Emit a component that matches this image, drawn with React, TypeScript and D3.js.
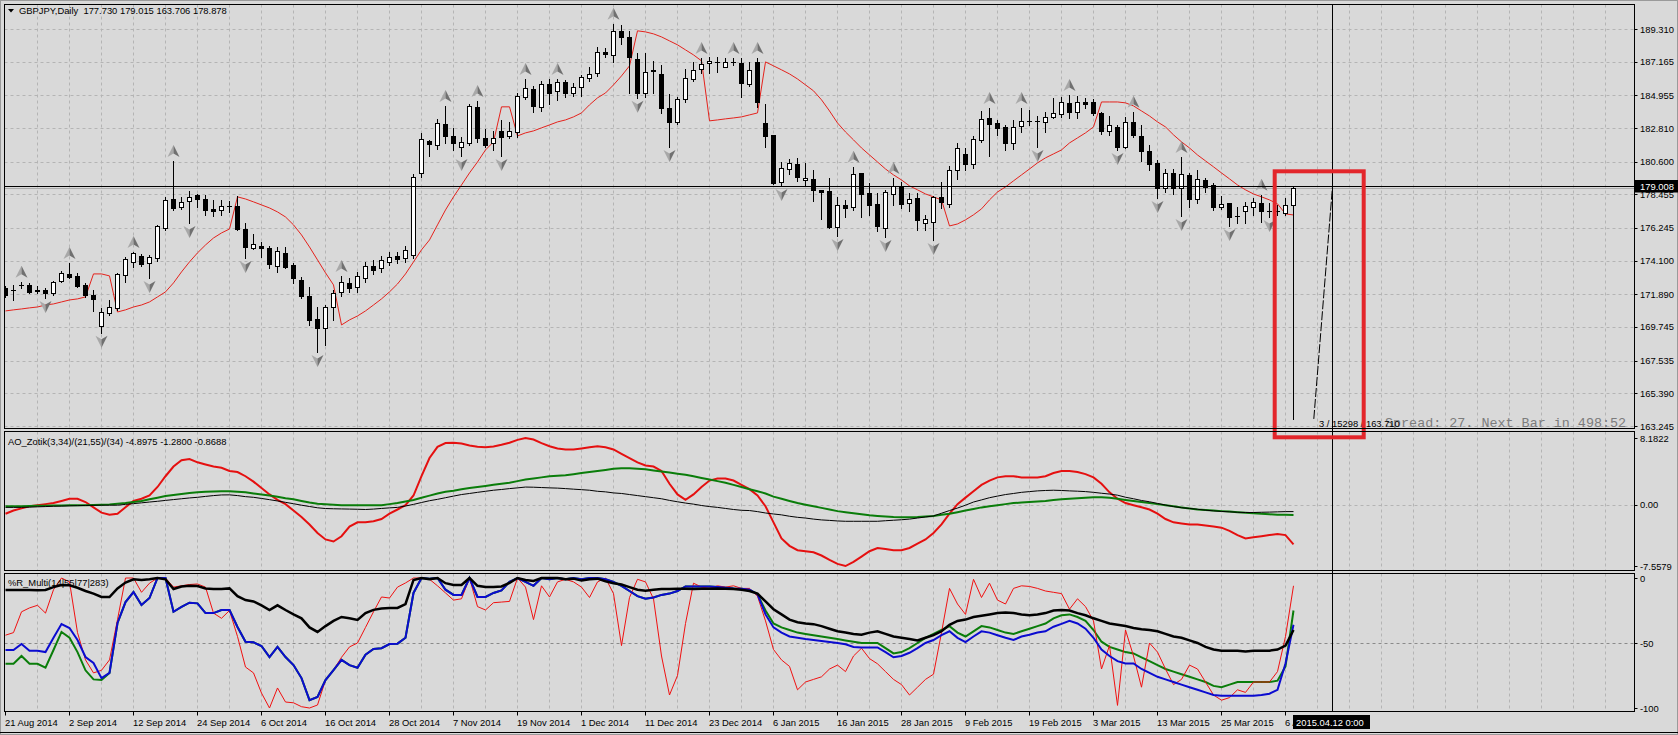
import React from 'react'
import * as d3 from 'd3'

const W = 1678
const H = 735
const FONT = "'Liberation Sans', Arial, sans-serif"

const symbolTitle = 'GBPJPY,Daily  177.730 179.015 163.706 178.878'
const aoTitle = 'AO_Zotik(3,34)/(21,55)/(34) -4.8975 -1.2800 -0.8688'
const wprTitle = '%R_Multi(14|55|77|283)'

// one label every 8 bars
const timeLabels = ['21 Aug 2014', '2 Sep 2014', '12 Sep 2014', '24 Sep 2014', '6 Oct 2014', '16 Oct 2014',
  '28 Oct 2014', '7 Nov 2014', '19 Nov 2014', '1 Dec 2014', '11 Dec 2014', '23 Dec 2014', '6 Jan 2015',
  '16 Jan 2015', '28 Jan 2015', '9 Feb 2015', '19 Feb 2015', '3 Mar 2015', '13 Mar 2015', '25 Mar 2015', '6 Apr 2015']
const priceTicks = [189.310, 187.165, 184.955, 182.810, 180.600, 178.455, 176.245, 174.100, 171.890, 169.745, 167.535, 165.390, 163.245]
const aoTicks = [8.1822, 0, -7.5579]
const aoTickText = ['8.1822', '0.00', '-7.5579']
const wprTicks = [0, -50, -100]

const opens = [172.31,172.20,172.49,172.51,172.18,172.18,171.98,172.77,173.23,173.10,
  172.51,171.85,169.81,170.67,171.00,173.16,174.02,174.41,173.95,174.28,
  176.25,178.15,177.63,178.02,178.42,178.15,177.49,177.43,177.67,177.69,
  176.18,174.94,175.07,174.94,173.76,174.61,173.82,172.84,171.79,170.27,
  169.68,171.07,172.05,172.64,172.38,172.97,173.76,173.62,174.02,174.41,
  174.28,174.48,179.86,181.96,181.70,183.08,182.29,181.57,181.83,184.20,
  182.16,181.83,182.62,182.29,182.55,184.85,185.38,184.20,185.71,185.25,
  185.84,185.12,185.51,186.10,186.43,187.81,187.61,189.19,188.79,187.35,
  185.11,186.56,186.36,184.13,183.21,184.72,186.03,186.69,187.08,187.15,
  186.82,187.17,187.08,185.71,187.15,183.14,182.36,179.27,180.12,180.45,
  179.40,179.47,178.75,178.68,176.32,177.76,177.63,179.86,178.55,177.82,
  176.25,178.48,178.94,177.89,178.22,176.58,176.64,178.29,177.82,180.06,
  181.11,180.45,182.03,183.47,183.14,182.88,181.83,182.95,183.29,183.27,
  183.21,183.54,183.73,184.46,183.87,184.52,184.52,183.80,182.62,182.88,
  181.57,183.21,182.29,181.31,180.52,178.88,179.86,178.88,179.73,178.15,
  179.40,179.07,177.63,177.89,177.04,177.36,177.63,177.89,177.38,177.36,
  177.23,177.73]
const highs = [172.44,172.51,172.71,172.64,172.44,172.31,172.77,173.43,173.95,173.30,
  172.64,172.18,171.00,171.52,173.30,174.35,174.67,174.54,174.48,176.45,
  178.29,180.65,178.29,178.68,178.48,178.42,178.09,178.09,178.02,178.35,
  176.58,175.86,175.33,175.07,175.00,175.00,173.95,173.03,172.38,171.07,
  171.20,172.18,173.10,172.97,173.36,174.02,174.15,174.41,174.67,174.67,
  175.07,179.80,182.49,182.03,183.41,184.26,182.82,182.22,184.39,184.59,
  182.75,182.62,183.34,183.21,185.11,186.03,185.57,185.90,186.03,186.03,
  185.97,185.77,186.30,186.82,188.14,188.07,189.65,189.58,189.19,187.74,
  187.74,187.22,186.95,185.05,184.85,186.69,187.15,187.41,187.48,187.48,
  187.41,187.41,187.41,187.15,187.41,184.39,182.36,180.58,180.78,180.85,
  180.52,180.06,178.75,179.53,178.29,178.09,180.26,179.86,179.21,178.55,
  178.75,179.53,179.27,178.55,178.55,177.10,178.35,179.27,180.32,181.83,
  181.50,182.29,183.93,184.13,183.34,183.01,183.34,184.13,184.00,183.60,
  183.87,184.79,184.85,184.98,184.92,184.79,184.72,183.87,183.60,183.01,
  183.54,183.87,183.01,181.70,180.72,180.12,180.12,180.91,179.86,180.06,
  179.53,179.20,178.35,177.89,177.63,177.96,178.22,178.42,177.89,177.76,
  178.22,179.015]
const lows = [171.72,171.52,172.31,171.98,171.98,171.65,171.85,172.71,172.97,172.38,
  171.72,170.80,169.36,170.54,170.87,172.71,173.69,173.76,172.97,174.09,
  176.12,177.43,177.49,176.58,177.63,177.10,177.04,177.10,177.30,176.12,
  174.28,174.87,174.35,173.62,173.36,173.62,172.64,171.65,169.88,168.11,
  168.57,170.21,171.79,172.05,172.05,172.71,173.23,173.36,173.82,173.95,
  174.02,174.28,179.60,180.98,181.44,181.83,181.37,180.98,181.70,181.90,
  181.57,181.37,180.98,182.16,182.22,184.72,183.87,183.93,184.39,184.66,
  184.85,184.92,184.92,185.90,186.23,187.48,187.15,188.33,185.11,184.79,
  184.85,185.11,183.80,181.57,183.08,184.52,185.90,186.43,186.43,186.49,
  186.82,186.95,184.85,185.57,184.20,181.57,179.14,179.01,179.80,179.34,
  179.01,178.02,176.84,176.25,175.72,176.97,177.43,176.97,177.10,176.05,
  175.66,177.76,177.56,177.36,176.12,176.12,175.46,177.56,177.63,179.47,
  180.06,180.19,181.90,180.98,182.36,181.37,181.44,182.55,183.01,181.57,
  182.55,183.47,183.54,183.47,183.47,184.13,183.67,182.42,182.36,181.37,
  181.50,182.22,180.65,180.06,178.22,178.61,178.48,177.04,177.63,177.89,
  178.61,177.43,177.49,176.38,176.58,176.58,177.10,176.64,176.97,177.10,
  177.10,163.706]
const closes = [171.85,172.16,172.53,172.05,172.10,171.98,172.71,173.30,173.03,172.44,
  171.85,171.59,170.73,171.07,173.23,174.22,174.61,173.89,174.35,176.38,
  178.09,177.56,177.96,178.29,178.15,177.43,177.36,177.69,177.71,176.18,
  175.00,175.20,174.94,173.89,174.74,173.69,172.97,171.79,170.21,169.68,
  171.07,171.98,172.71,172.31,173.10,173.76,173.49,174.15,174.35,174.22,
  174.81,179.60,182.09,181.77,183.14,182.29,181.83,181.90,184.26,182.16,
  181.70,182.16,182.22,182.62,184.92,185.44,184.26,185.71,185.12,185.84,
  185.12,185.51,186.16,186.36,187.81,187.68,189.19,188.79,187.48,185.11,
  186.49,186.59,184.13,183.21,184.72,186.10,186.62,187.02,187.22,187.17,
  187.15,187.15,185.77,186.62,184.52,182.29,179.21,180.19,180.52,179.60,
  179.53,178.75,178.61,176.32,177.76,177.56,179.80,178.48,177.76,176.38,
  178.61,179.01,177.82,178.15,176.78,176.84,178.29,177.96,180.06,181.50,
  180.45,182.09,183.41,183.08,182.82,181.83,182.88,183.27,183.27,183.29,
  183.54,183.80,184.52,183.87,184.52,184.39,183.80,182.62,183.01,181.57,
  183.21,182.36,181.31,180.45,178.88,179.86,178.88,179.80,178.15,179.47,
  178.94,177.63,177.82,176.97,177.02,177.69,177.96,177.36,177.36,177.38,
  177.76,178.878]

// red trailing stop line
const trail = [170.80,170.87,170.93,171.00,171.06,171.19,171.26,171.39,171.52,171.59,
  171.72,173.23,173.23,173.10,170.73,170.87,171.06,171.19,171.39,171.72,
  172.05,172.64,173.36,174.02,174.61,175.13,175.59,175.92,176.18,178.29,
  178.15,177.96,177.76,177.56,177.30,176.97,176.45,175.79,175.00,174.15,
  173.30,172.51,169.88,170.21,170.47,170.80,171.19,171.59,172.05,172.57,
  173.23,174.02,174.81,175.46,176.45,177.43,178.29,179.07,179.86,180.58,
  181.37,181.90,184.20,184.20,182.29,182.49,182.62,182.82,183.01,183.21,
  183.34,183.54,183.80,184.33,184.79,185.11,185.64,186.23,186.89,189.19,
  189.12,188.99,188.79,188.53,188.27,187.94,187.61,187.22,183.28,183.34,
  183.41,183.47,183.54,183.67,183.80,187.15,186.89,186.63,186.36,186.03,
  185.64,185.25,184.66,183.93,183.14,182.55,182.03,181.50,181.04,180.58,
  180.12,179.73,179.40,179.01,178.75,178.48,178.29,178.09,176.38,176.51,
  176.78,177.11,177.50,178.09,178.61,178.94,179.34,179.73,180.12,180.52,
  180.85,181.11,181.37,181.83,182.16,182.49,182.88,184.52,184.52,184.52,
  184.46,184.26,183.93,183.60,183.21,182.88,182.36,181.90,181.50,181.04,
  180.65,180.26,179.86,179.47,179.07,178.75,178.48,178.29,178.09,177.83,
  177.17,177.10]

const fractalUp = [2, 8, 16, 21, 42, 55, 59, 65, 69, 76, 87, 91, 94, 106, 111, 123, 127, 133, 141, 147, 157]
const fractalDown = [5, 12, 18, 23, 30, 39, 57, 62, 79, 83, 97, 104, 110, 116, 129, 139, 144, 147, 153, 158]

const aoMain = [-1.13,-0.74,-0.47,-0.21,-0.08,0.05,0.18,0.44,0.71,0.71,
  0.31,-0.34,-1.00,-1.26,-1.13,-0.34,0.44,0.71,1.11,2.16,
  3.48,4.67,5.45,5.59,5.19,4.93,4.67,4.53,4.13,4.00,
  3.48,2.82,2.03,1.24,0.58,0.05,-0.74,-1.52,-2.45,-3.50,
  -4.29,-4.55,-3.90,-2.71,-2.19,-2.19,-2.06,-1.78,-1.13,-0.61,
  -0.08,1.11,3.48,5.72,7.10,7.56,7.60,7.50,7.25,7.10,
  7.05,7.15,7.35,7.60,7.95,8.18,8.00,7.56,7.17,6.90,
  6.77,6.77,6.90,7.04,7.17,7.04,6.77,6.24,5.72,5.19,
  4.80,4.67,4.13,2.55,1.24,0.58,1.24,2.16,2.95,3.21,
  3.21,2.95,2.42,1.89,1.11,-0.21,-2.19,-4.16,-5.08,-5.61,
  -5.74,-5.87,-6.27,-6.80,-7.30,-7.56,-7.05,-6.40,-5.74,-5.34,
  -5.48,-5.61,-5.61,-5.34,-4.82,-4.29,-3.50,-2.45,-1.13,0.05,
  0.85,1.63,2.42,2.95,3.34,3.48,3.48,3.34,3.34,3.34,
  3.48,3.87,4.13,4.13,4.00,3.74,3.34,2.55,1.50,0.71,
  0.18,-0.08,-0.34,-0.61,-1.13,-1.78,-2.19,-2.32,-2.45,-2.45,
  -2.58,-2.71,-2.84,-3.23,-3.76,-4.16,-4.03,-3.89,-3.76,-3.63,
  -3.76,-4.8975]
const aoSlow = [-0.21,-0.21,-0.21,-0.19,-0.16,-0.15,-0.12,-0.11,-0.08,-0.08,
  -0.08,-0.06,-0.03,0.02,0.10,0.18,0.31,0.44,0.64,0.84,
  1.04,1.17,1.30,1.43,1.50,1.56,1.60,1.63,1.63,1.56,
  1.50,1.36,1.23,1.10,0.97,0.77,0.64,0.44,0.25,0.11,
  0.05,-0.02,-0.08,-0.08,-0.08,-0.08,-0.08,-0.08,0.05,0.18,
  0.38,0.57,0.84,1.10,1.36,1.56,1.69,1.89,2.02,2.15,
  2.29,2.42,2.55,2.68,2.88,3.08,3.21,3.34,3.47,3.54,
  3.60,3.73,3.87,4.00,4.13,4.26,4.39,4.46,4.46,4.39,
  4.33,4.19,4.06,3.93,3.80,3.67,3.47,3.27,3.08,2.88,
  2.68,2.42,2.15,1.89,1.63,1.36,0.97,0.71,0.44,0.18,
  -0.02,-0.21,-0.41,-0.61,-0.81,-0.94,-1.07,-1.20,-1.33,-1.40,
  -1.47,-1.53,-1.56,-1.56,-1.53,-1.47,-1.40,-1.27,-1.14,-0.94,
  -0.74,-0.54,-0.35,-0.21,-0.08,0.05,0.18,0.25,0.31,0.38,
  0.44,0.57,0.64,0.71,0.77,0.84,0.90,0.90,0.84,0.71,
  0.57,0.44,0.31,0.18,0.05,-0.08,-0.21,-0.35,-0.48,-0.61,
  -0.68,-0.74,-0.81,-0.87,-0.94,-1.00,-1.07,-1.14,-1.20,-1.27,
  -1.27,-1.28]
const aoSignal = [-0.35,-0.35,-0.35,-0.32,-0.28,-0.25,-0.21,-0.19,-0.16,-0.14,
  -0.11,-0.10,-0.08,-0.08,-0.08,0.02,0.11,0.21,0.31,0.40,
  0.51,0.61,0.71,0.81,0.89,1.00,1.10,1.18,1.19,1.10,
  0.97,0.89,0.75,0.60,0.44,0.27,0.10,-0.08,-0.24,-0.40,
  -0.49,-0.52,-0.54,-0.56,-0.58,-0.61,-0.56,-0.48,-0.41,-0.35,
  -0.18,0.02,0.25,0.47,0.64,0.84,1.04,1.23,1.36,1.50,
  1.63,1.76,1.85,1.96,2.05,2.15,2.13,2.09,2.05,2.02,
  1.96,1.89,1.83,1.76,1.63,1.56,1.43,1.36,1.23,1.10,
  0.97,0.84,0.71,0.51,0.34,0.18,0.05,-0.12,-0.25,-0.35,
  -0.48,-0.61,-0.71,-0.74,-0.87,-1.04,-1.16,-1.27,-1.44,-1.57,
  -1.66,-1.79,-1.89,-1.95,-2.02,-2.06,-2.06,-2.06,-2.06,-2.06,
  -1.99,-1.93,-1.87,-1.79,-1.66,-1.53,-1.40,-1.07,-0.74,-0.43,
  -0.08,0.31,0.57,0.84,1.04,1.23,1.36,1.50,1.59,1.68,
  1.73,1.76,1.73,1.68,1.64,1.59,1.50,1.39,1.29,1.15,
  0.90,0.71,0.50,0.34,0.14,-0.06,-0.25,-0.39,-0.48,-0.58,
  -0.69,-0.78,-0.85,-0.90,-0.95,-0.98,-0.98,-0.95,-0.93,-0.90,
  -0.87,-0.8688]

const wpr14 = [-44,-42,-26,-23,-21,-27,-9,0,-3,-42,
  -63,-73,-71,-63,-32,0,0,-11,-4,0,
  0,-7,-6,-5,-4.6,-7,-27,-31,-25,-45,
  -68.5,-73,-88.5,-100,-84.6,-95.4,-96,-99,-100,-97.7,
  -78.5,-70.8,-61,-53,-50,-38,-26,-14.6,-15.4,-7,
  -3.8,0,0,-1,-6,-11.5,-17,-16,0,-22,
  -24.6,-19,-18.5,-18,0,-7,-32,-6,-14.6,-3,
  -1,-3,-7,-15,-3,0,-12,-52,-15,-1,
  -3,-16,-60,-90,-75,-35,-4,-7,-8,-6,
  -7,-6,-8,-8,-14,-33,-55,-63,-68,-86,
  -80,-78,-76,-70,-67,-72,-60,-54,-62,-66,
  -72,-78,-82,-90,-84,-78,-74,-42,-8,-20,
  -28,-1,-15,-4,-17,-20,-8,-6,-6.5,-8,
  -10,-11,-12,-24,-16,-22,-33,-70,-52,-98,
  -40,-60,-84,-50,-57,-70,-82,-78,-67,-70,
  -80,-90,-94,-92,-86,-88,-80,-80,-80,-72,
  -45,-6]
const wpr55 = [-66,-66,-60,-66,-66,-69,-55.4,-41.5,-46,-57,
  -71,-78,-78.5,-73,-34.6,-18.5,-10.8,-20.8,-15.4,0,
  0,-26,-22.3,-19,-19.5,-27,-27,-24.6,-24.6,-37.7,
  -49,-49.5,-52.3,-60.8,-53,-60.8,-67,-77,-94,-91.5,
  -78.5,-70.8,-63,-67,-69,-59,-54.6,-54,-50.8,-50.5,
  -46,-11.5,0,-0.5,0,-9,-13,-13,0,-14.6,
  -14.6,-11.5,-9.5,-3,0,-3,-6,0,-1,0,
  -1,0,-1,0,0,-1,-3,-6,-10,-14,
  -16,-15,-13,-12,-10,-6.5,-6.5,-6.5,-6.5,-7,
  -7.5,-8,-8.2,-9,-12.5,-25,-35,-38,-40,-42,
  -43,-44,-45,-46,-47,-48,-49,-50,-50,-50,
  -54,-58,-57,-54,-50,-46,-43,-40,-37,-42,
  -45,-41,-37,-38,-40,-42,-43,-41,-39,-37,
  -35,-31,-28.7,-28,-30,-33,-40,-49,-53,-55,
  -57,-58,-61,-64,-67,-70,-72,-74,-76,-78,
  -80,-83,-84,-82,-80,-80,-80,-80,-80,-79,
  -68,-25]
const wpr77 = [-55.4,-55.4,-50.8,-56,-56,-57,-46,-35.4,-38.5,-47.7,
  -60.8,-65.4,-77,-73,-34.6,-18.5,-10.8,-20.8,-15.4,0,
  0,-26,-22.3,-19,-19.5,-27,-27,-24.6,-24.6,-37.7,
  -49,-49.5,-52.3,-60.8,-53,-60.8,-67,-77,-94,-91.5,
  -78.5,-70.8,-63,-67,-69,-59,-54.6,-54,-50.8,-50.5,
  -46,-11.5,0,-0.5,0,-9,-13,-13,0,-14.6,
  -14.6,-11.5,-9.5,-3,0,-3,-6,0,-1,0,
  -1,0,-1,0,0,-1,-3,-6,-10,-14,
  -16,-15,-13,-12,-10,-6.5,-6.5,-6.5,-6.5,-7,
  -7.5,-8,-8.2,-9,-12.5,-28,-38,-42,-45,-46,
  -47,-47.7,-48.5,-49.3,-50,-51,-53,-53.4,-53.4,-53.4,
  -57,-61,-60,-57.5,-54,-50,-47.7,-44,-41,-46,
  -49.3,-45,-41,-42,-44,-46,-47.7,-45,-43.6,-42,
  -41,-37.5,-35.3,-33,-35,-39,-46,-55,-60,-64,
  -65.8,-65.8,-70,-73,-76,-78,-80,-82,-84,-86,
  -88,-90,-90.5,-90.5,-90.5,-90.5,-90.5,-90,-89,-86,
  -65.8,-36]
const wpr283 = [-9.2,-9.2,-9.2,-9.2,-9.5,-9.2,-7,-5.4,-5.6,-7.5,
  -10,-12,-14.6,-14.6,-8,-3.5,-1,-1.5,-1,0,
  -1,-8.5,-6.5,-6,-6.2,-8,-8.5,-8.5,-8,-14,
  -17,-18,-21,-24.6,-21,-24.6,-28,-31,-38,-41.5,
  -37,-33,-30,-31,-32.3,-27,-24.5,-23.5,-23,-23,
  -20,-1.5,0,-1,0,-4,-5.4,-5.4,0,-6,
  -7,-7,-6.5,-3.8,0,-1.5,-2.3,0,0,0,
  -1,-0.5,-2,-1,-0.5,-2.5,-4,-5,-7,-9,
  -9.8,-9,-8.5,-8.5,-8.2,-8.2,-8.5,-8.2,-8.2,-8,
  -8.2,-8.5,-9,-10,-12,-18,-24,-28,-32,-34,
  -35,-35.5,-37,-39,-41,-42,-43,-43.6,-42,-41,
  -43,-45,-46,-47,-48,-46,-44,-41,-36,-33,
  -32,-30,-29,-28,-27,-26.5,-27,-28,-28.7,-28,
  -27,-25,-24.6,-25,-27,-28.7,-31,-33,-35,-36,
  -37,-38.5,-39.4,-40,-41,-43,-45,-46,-48,-50,
  -53,-55,-56,-56,-56,-56.5,-56,-56,-55.9,-55,
  -52,-40]

// crosshair and measuring tool
const crossBar = 165.9
const crossPrice = 179.008
const bidPrice = 178.878
const crossDate = '2015.04.12 0:00'
const measureStartBar = 163.6
const measureStartPrice = 163.71
const measureText = '3 / 15298 / 163.710'
const spreadText = 'Spread: 27. Next Bar in 498:52'

const PL = 4.5
const PR = 1634.5
const panels = [
  { top: 4.5, bottom: 428.5 },
  { top: 431.5, bottom: 570.5 },
  { top: 573.5, bottom: 711.5 },
]

export default function App() {
  const x = d3.scaleLinear().domain([0, 161]).range([5, 1293])
  const yMain = d3.scaleLinear().domain([163.245, 189.31]).range([426, 29])
  const yAO = d3.scaleLinear().domain([-7.5579, 8.1822]).range([566, 438])
  const yW = d3.scaleLinear().domain([-100, 0]).range([708, 578])

  const path = (vals: number[], y: d3.ScaleLinear<number, number>) =>
    d3.line<number>().x((_, i) => x(i) + 0.5).y(v => y(v))(vals) || ''

  const gridX = d3.range(4, 210, 4).map(i => Math.round(x(i)) + 0.5).filter(v => v < PR - 2)
  const px = (v: number) => Math.round(v) + 0.5

  const crossX = px(x(crossBar))
  const crossY = px(yMain(crossPrice))

  return (
    <svg width={W} height={H} style={{ position: 'fixed', left: 0, top: 0, display: 'block' }}
      fontFamily={FONT} fontSize={9.4}>
      <defs>
        {panels.map((p, i) => (
          <clipPath id={'clip' + i} key={i}>
            <rect x={PL} y={p.top} width={PR - PL} height={p.bottom - p.top} />
          </clipPath>
        ))}
      </defs>
      <rect width={W} height={H} fill="#d9d9d9" />

      {/* grids */}
      {panels.map((p, i) => (
        <g key={'g' + i} stroke="#b4b4b4" strokeDasharray="3,3">
          {gridX.map(gx => <line key={gx} x1={gx} x2={gx} y1={p.top} y2={p.bottom} />)}
        </g>
      ))}
      <g stroke="#b4b4b4" strokeDasharray="3,3">
        {priceTicks.map(t => <line key={t} x1={PL} x2={PR} y1={px(yMain(t))} y2={px(yMain(t))} />)}
        <line x1={PL} x2={PR} y1={px(yAO(0))} y2={px(yAO(0))} />
      </g>
      <line x1={PL} x2={PR} y1={px(yW(-50))} y2={px(yW(-50))} stroke="#8a8a8a" strokeDasharray="3,3" />

      {/* main panel */}
      <g clipPath="url(#clip0)">
        <line x1={PL} x2={PR} y1={px(yMain(bidPrice))} y2={px(yMain(bidPrice))} stroke="#ababab" />
        <path d={path(trail, yMain)} fill="none" stroke="#e4221c" strokeWidth={1} />
        {opens.map((o, i) => {
          const c = closes[i]
          const xi = Math.round(x(i))
          const top = Math.round(yMain(Math.max(o, c)))
          const bot = Math.round(yMain(Math.min(o, c)))
          const bull = c >= o
          return (
            <g key={i}>
              <line x1={xi + 0.5} x2={xi + 0.5} y1={Math.round(yMain(highs[i]))} y2={Math.round(yMain(lows[i])) + 1} stroke="#000" />
              {bot - top >= 1
                ? <rect x={xi - 1.5} y={top + 0.5} width={4} height={bot - top} fill={bull ? '#fff' : '#000'} stroke="#000" />
                : <line x1={xi - 2} x2={xi + 3} y1={top + 0.5} y2={top + 0.5} stroke="#000" />}
            </g>
          )
        })}
        {fractalUp.map(i => {
          const cx = Math.round(x(i)) + 0.5
          const cy = yMain(highs[i]) - 10
          return (
            <g key={'u' + i} transform={`translate(${cx},${cy})`}>
              <path d="M0,-6 L0,2.5 L-6,6 Z" fill="#a8a8a8" />
              <path d="M0,-6 L6,6 L0,2.5 Z" fill="#707070" />
            </g>
          )
        })}
        {fractalDown.map(i => {
          const cx = Math.round(x(i)) + 0.5
          const cy = yMain(lows[i]) + 9
          return (
            <g key={'d' + i} transform={`translate(${cx},${cy})`}>
              <path d="M0,6 L0,-2.5 L-6,-6 Z" fill="#a8a8a8" />
              <path d="M0,6 L6,-6 L0,-2.5 Z" fill="#707070" />
            </g>
          )
        })}
        <line x1={PL} x2={PR} y1={crossY} y2={crossY} stroke="#000" />
        <line x1={x(measureStartBar)} y1={yMain(measureStartPrice)} x2={crossX} y2={crossY}
          stroke="#000" strokeDasharray="9,2" />
        <text x={1385} y={427} fontFamily="'Liberation Mono', 'Courier New', monospace" fontSize={13.4} fill="#7c7c7c">{spreadText}</text>
        <text x={1319} y={427} fill="#000">{measureText}</text>
      </g>

      {/* AO panel */}
      <g clipPath="url(#clip1)" fill="none">
        <path d={path(aoMain, yAO)} stroke="#e51010" strokeWidth={2} />
        <path d={path(aoSlow, yAO)} stroke="#0a7d0a" strokeWidth={2} />
        <path d={path(aoSignal, yAO)} stroke="#000" strokeWidth={1} />
      </g>

      {/* %R panel */}
      <g clipPath="url(#clip2)" fill="none">
        <path d={path(wpr55, yW)} stroke="#0a7d0a" strokeWidth={2} />
        <path d={path(wpr14, yW)} stroke="#f01010" strokeWidth={1} />
        <path d={path(wpr77, yW)} stroke="#0b0bd0" strokeWidth={2} />
        <path d={path(wpr283, yW)} stroke="#000" strokeWidth={2.5} />
      </g>

      {/* crosshair vertical */}
      <line x1={crossX} x2={crossX} y1={panels[0].top} y2={panels[2].bottom} stroke="#000" />

      {/* red marker box */}
      <rect x={1274.7} y={171.3} width={89} height={266} fill="none" stroke="#e3262b" strokeWidth={4} />

      {/* frames */}
      {panels.map((p, i) => (
        <rect key={'f' + i} x={PL} y={p.top} width={PR - PL} height={p.bottom - p.top} fill="none" stroke="#000" />
      ))}
      <rect x={0.5} y={0.5} width={W - 1} height={H - 1} fill="none" stroke="#9a9a9a" />
      <line x1={0} x2={W} y1={732.5} y2={732.5} stroke="#000" />

      {/* titles */}
      <path d="M8,9 L14,9 L11,12.5 Z" fill="#000" />
      <text x={19} y={14} fill="#000" style={{ whiteSpace: 'pre' }}>{symbolTitle}</text>
      <text x={8} y={444.5} fill="#000">{aoTitle}</text>
      <text x={8} y={585.5} fill="#000">{wprTitle}</text>

      {/* price axis */}
      {priceTicks.map(t => (
        <g key={t}>
          <line x1={PR} x2={PR + 3} y1={px(yMain(t))} y2={px(yMain(t))} stroke="#000" />
          <text x={1640} y={yMain(t) + 3.5} fill="#000">{t.toFixed(3)}</text>
        </g>
      ))}
      {aoTicks.map((t, i) => (
        <g key={'a' + t}>
          <line x1={PR} x2={PR + 3} y1={px(yAO(t))} y2={px(yAO(t))} stroke="#000" />
          <text x={1640} y={yAO(t) + 3.5} fill="#000">{aoTickText[i]}</text>
        </g>
      ))}
      {wprTicks.map(t => (
        <g key={'w' + t}>
          <line x1={PR} x2={PR + 3} y1={px(yW(t))} y2={px(yW(t))} stroke="#000" />
          <text x={1640} y={yW(t) + 3.5} fill="#000">{String(t)}</text>
        </g>
      ))}
      <rect x={1635} y={180} width={43} height={12.5} fill="#000" />
      <text x={1640} y={189.8} fill="#fff">{crossPrice.toFixed(3)}</text>

      {/* time axis */}
      {timeLabels.map((lab, j) => {
        const tx = Math.round(x(j * 8))
        return (
          <g key={lab}>
            <line x1={tx + 0.5} x2={tx + 0.5} y1={711.5} y2={715.5} stroke="#000" />
            <text x={tx} y={726} fill="#000">{lab}</text>
          </g>
        )
      })}
      <rect x={1293} y={715} width={77} height={14} fill="#000" />
      <text x={1296} y={726} fill="#fff">{crossDate}</text>
    </svg>
  )
}
